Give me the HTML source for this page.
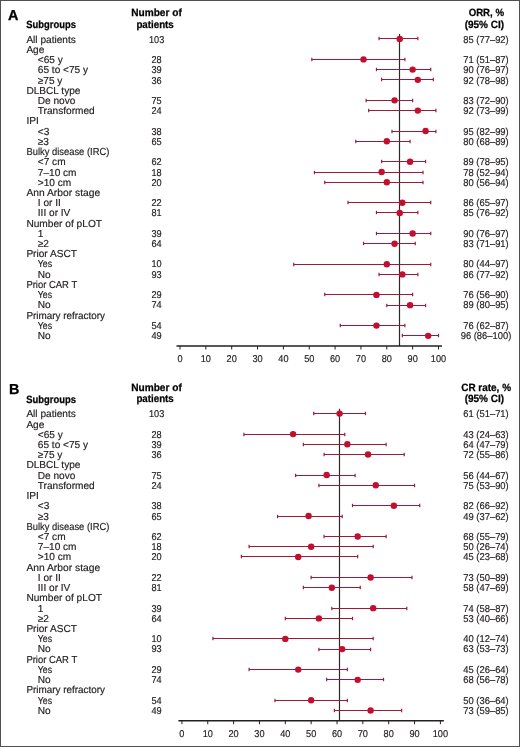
<!DOCTYPE html>
<html><head><meta charset="utf-8"><style>
html,body{margin:0;padding:0;background:#fff;}
#f{position:relative;width:520px;height:747px;overflow:hidden;background:#fff;}
svg{position:absolute;left:0;top:0;will-change:transform;}
text{font-family:"Liberation Sans",sans-serif;fill:#231f20;text-rendering:geometricPrecision;}
.T{font-size:10.1px;stroke:#231f20;stroke-width:0.18px;}
.N{font-size:9.9px;stroke:#231f20;stroke-width:0.18px;}
.H{font-size:10.5px;font-weight:bold;fill:#000;stroke:#000;stroke-width:0.25px;}
.L{font-size:14.4px;font-weight:bold;fill:#000;stroke:#000;stroke-width:0.3px;}
</style></head><body><div id="f"><svg width="520" height="747" viewBox="0 0 520 747">
<text x="7.9" y="19.60" class="L">A</text>
<text x="26.3" y="28.30" class="H" textLength="49.6" lengthAdjust="spacingAndGlyphs">Subgroups</text>
<text x="156.5" y="16.40" class="H" text-anchor="middle" textLength="50.6" lengthAdjust="spacingAndGlyphs">Number of</text>
<text x="155.1" y="27.60" class="H" text-anchor="middle" textLength="37.4" lengthAdjust="spacingAndGlyphs">patients</text>
<text x="486.35" y="16.40" class="H" text-anchor="middle" textLength="35.4" lengthAdjust="spacingAndGlyphs">ORR, %</text>
<text x="484.35" y="27.60" class="H" text-anchor="middle" textLength="39.4" lengthAdjust="spacingAndGlyphs">(95% CI)</text>
<line x1="399.50" y1="34.00" x2="399.50" y2="346.00" stroke="#2a2a2a" stroke-width="1.2"/>
<text x="26.4" y="43.00" class="T">All patients</text>
<text transform="translate(156.6,43.00) scale(0.93,1)" class="N" text-anchor="middle">103</text>
<text transform="translate(486.0,43.00) scale(0.95,1)" class="N" text-anchor="middle">85 (77–92)</text>
<line x1="379.04" y1="38.50" x2="417.82" y2="38.50" stroke="#9a1a3c" stroke-width="1.2"/>
<line x1="379.04" y1="36.80" x2="379.04" y2="40.20" stroke="#9a1a3c" stroke-width="1.2"/>
<line x1="417.82" y1="36.80" x2="417.82" y2="40.20" stroke="#9a1a3c" stroke-width="1.2"/>
<circle cx="399.73" cy="38.90" r="3.2" fill="#c30e2e"/>
<text x="26.4" y="53.00" class="T">Age</text>
<text x="37.8" y="63.00" class="T">&lt;65 y</text>
<text transform="translate(156.6,63.00) scale(0.93,1)" class="N" text-anchor="middle">28</text>
<text transform="translate(486.0,63.00) scale(0.95,1)" class="N" text-anchor="middle">71 (51–87)</text>
<line x1="311.84" y1="59.50" x2="404.89" y2="59.50" stroke="#9a1a3c" stroke-width="1.2"/>
<line x1="311.84" y1="57.80" x2="311.84" y2="61.20" stroke="#9a1a3c" stroke-width="1.2"/>
<line x1="404.89" y1="57.80" x2="404.89" y2="61.20" stroke="#9a1a3c" stroke-width="1.2"/>
<circle cx="363.53" cy="59.38" r="3.2" fill="#c30e2e"/>
<text x="37.8" y="73.00" class="T">65 to &lt;75 y</text>
<text transform="translate(156.6,73.00) scale(0.93,1)" class="N" text-anchor="middle">39</text>
<text transform="translate(486.0,73.00) scale(0.95,1)" class="N" text-anchor="middle">90 (76–97)</text>
<line x1="376.46" y1="69.50" x2="430.75" y2="69.50" stroke="#9a1a3c" stroke-width="1.2"/>
<line x1="376.46" y1="67.80" x2="376.46" y2="71.20" stroke="#9a1a3c" stroke-width="1.2"/>
<line x1="430.75" y1="67.80" x2="430.75" y2="71.20" stroke="#9a1a3c" stroke-width="1.2"/>
<circle cx="412.65" cy="69.62" r="3.2" fill="#c30e2e"/>
<text x="37.8" y="84.00" class="T">≥75 y</text>
<text transform="translate(156.6,84.00) scale(0.93,1)" class="N" text-anchor="middle">36</text>
<text transform="translate(486.0,84.00) scale(0.95,1)" class="N" text-anchor="middle">92 (78–98)</text>
<line x1="381.63" y1="79.50" x2="433.33" y2="79.50" stroke="#9a1a3c" stroke-width="1.2"/>
<line x1="381.63" y1="77.80" x2="381.63" y2="81.20" stroke="#9a1a3c" stroke-width="1.2"/>
<line x1="433.33" y1="77.80" x2="433.33" y2="81.20" stroke="#9a1a3c" stroke-width="1.2"/>
<circle cx="417.82" cy="79.86" r="3.2" fill="#c30e2e"/>
<text x="26.4" y="94.00" class="T">DLBCL type</text>
<text x="37.8" y="104.00" class="T">De novo</text>
<text transform="translate(156.6,104.00) scale(0.93,1)" class="N" text-anchor="middle">75</text>
<text transform="translate(486.0,104.00) scale(0.95,1)" class="N" text-anchor="middle">83 (72–90)</text>
<line x1="366.12" y1="100.50" x2="412.65" y2="100.50" stroke="#9a1a3c" stroke-width="1.2"/>
<line x1="366.12" y1="98.80" x2="366.12" y2="102.20" stroke="#9a1a3c" stroke-width="1.2"/>
<line x1="412.65" y1="98.80" x2="412.65" y2="102.20" stroke="#9a1a3c" stroke-width="1.2"/>
<circle cx="394.56" cy="100.34" r="3.2" fill="#c30e2e"/>
<text x="37.8" y="114.00" class="T">Transformed</text>
<text transform="translate(156.6,114.00) scale(0.93,1)" class="N" text-anchor="middle">24</text>
<text transform="translate(486.0,114.00) scale(0.95,1)" class="N" text-anchor="middle">92 (73–99)</text>
<line x1="368.70" y1="110.50" x2="435.91" y2="110.50" stroke="#9a1a3c" stroke-width="1.2"/>
<line x1="368.70" y1="108.80" x2="368.70" y2="112.20" stroke="#9a1a3c" stroke-width="1.2"/>
<line x1="435.91" y1="108.80" x2="435.91" y2="112.20" stroke="#9a1a3c" stroke-width="1.2"/>
<circle cx="417.82" cy="110.58" r="3.2" fill="#c30e2e"/>
<text x="26.4" y="124.00" class="T">IPI</text>
<text x="37.8" y="135.00" class="T">&lt;3</text>
<text transform="translate(156.6,135.00) scale(0.93,1)" class="N" text-anchor="middle">38</text>
<text transform="translate(486.0,135.00) scale(0.95,1)" class="N" text-anchor="middle">95 (82–99)</text>
<line x1="391.97" y1="131.50" x2="435.91" y2="131.50" stroke="#9a1a3c" stroke-width="1.2"/>
<line x1="391.97" y1="129.80" x2="391.97" y2="133.20" stroke="#9a1a3c" stroke-width="1.2"/>
<line x1="435.91" y1="129.80" x2="435.91" y2="133.20" stroke="#9a1a3c" stroke-width="1.2"/>
<circle cx="425.57" cy="131.06" r="3.2" fill="#c30e2e"/>
<text x="37.8" y="145.00" class="T">≥3</text>
<text transform="translate(156.6,145.00) scale(0.93,1)" class="N" text-anchor="middle">65</text>
<text transform="translate(486.0,145.00) scale(0.95,1)" class="N" text-anchor="middle">80 (68–89)</text>
<line x1="355.78" y1="141.50" x2="410.06" y2="141.50" stroke="#9a1a3c" stroke-width="1.2"/>
<line x1="355.78" y1="139.80" x2="355.78" y2="143.20" stroke="#9a1a3c" stroke-width="1.2"/>
<line x1="410.06" y1="139.80" x2="410.06" y2="143.20" stroke="#9a1a3c" stroke-width="1.2"/>
<circle cx="386.80" cy="141.30" r="3.2" fill="#c30e2e"/>
<text x="26.4" y="155.00" class="T" textLength="83.0" lengthAdjust="spacingAndGlyphs">Bulky disease (IRC)</text>
<text x="37.8" y="165.00" class="T">&lt;7 cm</text>
<text transform="translate(156.6,165.00) scale(0.93,1)" class="N" text-anchor="middle">62</text>
<text transform="translate(486.0,165.00) scale(0.95,1)" class="N" text-anchor="middle">89 (78–95)</text>
<line x1="381.63" y1="161.50" x2="425.57" y2="161.50" stroke="#9a1a3c" stroke-width="1.2"/>
<line x1="381.63" y1="159.80" x2="381.63" y2="163.20" stroke="#9a1a3c" stroke-width="1.2"/>
<line x1="425.57" y1="159.80" x2="425.57" y2="163.20" stroke="#9a1a3c" stroke-width="1.2"/>
<circle cx="410.06" cy="161.78" r="3.2" fill="#c30e2e"/>
<text x="37.8" y="176.00" class="T">7–10 cm</text>
<text transform="translate(156.6,176.00) scale(0.93,1)" class="N" text-anchor="middle">18</text>
<text transform="translate(486.0,176.00) scale(0.95,1)" class="N" text-anchor="middle">78 (52–94)</text>
<line x1="314.42" y1="172.50" x2="422.99" y2="172.50" stroke="#9a1a3c" stroke-width="1.2"/>
<line x1="314.42" y1="170.80" x2="314.42" y2="174.20" stroke="#9a1a3c" stroke-width="1.2"/>
<line x1="422.99" y1="170.80" x2="422.99" y2="174.20" stroke="#9a1a3c" stroke-width="1.2"/>
<circle cx="381.63" cy="172.02" r="3.2" fill="#c30e2e"/>
<text x="37.8" y="186.00" class="T">&gt;10 cm</text>
<text transform="translate(156.6,186.00) scale(0.93,1)" class="N" text-anchor="middle">20</text>
<text transform="translate(486.0,186.00) scale(0.95,1)" class="N" text-anchor="middle">80 (56–94)</text>
<line x1="324.76" y1="182.50" x2="422.99" y2="182.50" stroke="#9a1a3c" stroke-width="1.2"/>
<line x1="324.76" y1="180.80" x2="324.76" y2="184.20" stroke="#9a1a3c" stroke-width="1.2"/>
<line x1="422.99" y1="180.80" x2="422.99" y2="184.20" stroke="#9a1a3c" stroke-width="1.2"/>
<circle cx="386.80" cy="182.26" r="3.2" fill="#c30e2e"/>
<text x="26.4" y="196.00" class="T" textLength="73.8" lengthAdjust="spacingAndGlyphs">Ann Arbor stage</text>
<text x="37.8" y="206.00" class="T">I or II</text>
<text transform="translate(156.6,206.00) scale(0.93,1)" class="N" text-anchor="middle">22</text>
<text transform="translate(486.0,206.00) scale(0.95,1)" class="N" text-anchor="middle">86 (65–97)</text>
<line x1="348.02" y1="202.50" x2="430.75" y2="202.50" stroke="#9a1a3c" stroke-width="1.2"/>
<line x1="348.02" y1="200.80" x2="348.02" y2="204.20" stroke="#9a1a3c" stroke-width="1.2"/>
<line x1="430.75" y1="200.80" x2="430.75" y2="204.20" stroke="#9a1a3c" stroke-width="1.2"/>
<circle cx="402.31" cy="202.74" r="3.2" fill="#c30e2e"/>
<text x="37.8" y="216.00" class="T">III or IV</text>
<text transform="translate(156.6,216.00) scale(0.93,1)" class="N" text-anchor="middle">81</text>
<text transform="translate(486.0,216.00) scale(0.95,1)" class="N" text-anchor="middle">85 (76–92)</text>
<line x1="376.46" y1="212.50" x2="417.82" y2="212.50" stroke="#9a1a3c" stroke-width="1.2"/>
<line x1="376.46" y1="210.80" x2="376.46" y2="214.20" stroke="#9a1a3c" stroke-width="1.2"/>
<line x1="417.82" y1="210.80" x2="417.82" y2="214.20" stroke="#9a1a3c" stroke-width="1.2"/>
<circle cx="399.73" cy="212.98" r="3.2" fill="#c30e2e"/>
<text x="26.4" y="227.00" class="T" textLength="75.6" lengthAdjust="spacingAndGlyphs">Number of pLOT</text>
<text x="37.8" y="237.00" class="T">1</text>
<text transform="translate(156.6,237.00) scale(0.93,1)" class="N" text-anchor="middle">39</text>
<text transform="translate(486.0,237.00) scale(0.95,1)" class="N" text-anchor="middle">90 (76–97)</text>
<line x1="376.46" y1="233.50" x2="430.75" y2="233.50" stroke="#9a1a3c" stroke-width="1.2"/>
<line x1="376.46" y1="231.80" x2="376.46" y2="235.20" stroke="#9a1a3c" stroke-width="1.2"/>
<line x1="430.75" y1="231.80" x2="430.75" y2="235.20" stroke="#9a1a3c" stroke-width="1.2"/>
<circle cx="412.65" cy="233.46" r="3.2" fill="#c30e2e"/>
<text x="37.8" y="247.00" class="T">≥2</text>
<text transform="translate(156.6,247.00) scale(0.93,1)" class="N" text-anchor="middle">64</text>
<text transform="translate(486.0,247.00) scale(0.95,1)" class="N" text-anchor="middle">83 (71–91)</text>
<line x1="363.53" y1="243.50" x2="415.24" y2="243.50" stroke="#9a1a3c" stroke-width="1.2"/>
<line x1="363.53" y1="241.80" x2="363.53" y2="245.20" stroke="#9a1a3c" stroke-width="1.2"/>
<line x1="415.24" y1="241.80" x2="415.24" y2="245.20" stroke="#9a1a3c" stroke-width="1.2"/>
<circle cx="394.56" cy="243.70" r="3.2" fill="#c30e2e"/>
<text x="26.4" y="257.00" class="T">Prior ASCT</text>
<text x="37.8" y="267.00" class="T" textLength="14.2" lengthAdjust="spacingAndGlyphs">Yes</text>
<text transform="translate(156.6,267.00) scale(0.93,1)" class="N" text-anchor="middle">10</text>
<text transform="translate(486.0,267.00) scale(0.95,1)" class="N" text-anchor="middle">80 (44–97)</text>
<line x1="293.74" y1="264.50" x2="430.75" y2="264.50" stroke="#9a1a3c" stroke-width="1.2"/>
<line x1="293.74" y1="262.80" x2="293.74" y2="266.20" stroke="#9a1a3c" stroke-width="1.2"/>
<line x1="430.75" y1="262.80" x2="430.75" y2="266.20" stroke="#9a1a3c" stroke-width="1.2"/>
<circle cx="386.80" cy="264.18" r="3.2" fill="#c30e2e"/>
<text x="37.8" y="278.00" class="T">No</text>
<text transform="translate(156.6,278.00) scale(0.93,1)" class="N" text-anchor="middle">93</text>
<text transform="translate(486.0,278.00) scale(0.95,1)" class="N" text-anchor="middle">86 (77–92)</text>
<line x1="379.04" y1="274.50" x2="417.82" y2="274.50" stroke="#9a1a3c" stroke-width="1.2"/>
<line x1="379.04" y1="272.80" x2="379.04" y2="276.20" stroke="#9a1a3c" stroke-width="1.2"/>
<line x1="417.82" y1="272.80" x2="417.82" y2="276.20" stroke="#9a1a3c" stroke-width="1.2"/>
<circle cx="402.31" cy="274.42" r="3.2" fill="#c30e2e"/>
<text x="26.4" y="288.00" class="T" textLength="50.8" lengthAdjust="spacingAndGlyphs">Prior CAR T</text>
<text x="37.8" y="298.00" class="T" textLength="14.2" lengthAdjust="spacingAndGlyphs">Yes</text>
<text transform="translate(156.6,298.00) scale(0.93,1)" class="N" text-anchor="middle">29</text>
<text transform="translate(486.0,298.00) scale(0.95,1)" class="N" text-anchor="middle">76 (56–90)</text>
<line x1="324.76" y1="294.50" x2="412.65" y2="294.50" stroke="#9a1a3c" stroke-width="1.2"/>
<line x1="324.76" y1="292.80" x2="324.76" y2="296.20" stroke="#9a1a3c" stroke-width="1.2"/>
<line x1="412.65" y1="292.80" x2="412.65" y2="296.20" stroke="#9a1a3c" stroke-width="1.2"/>
<circle cx="376.46" cy="294.90" r="3.2" fill="#c30e2e"/>
<text x="37.8" y="308.00" class="T">No</text>
<text transform="translate(156.6,308.00) scale(0.93,1)" class="N" text-anchor="middle">74</text>
<text transform="translate(486.0,308.00) scale(0.95,1)" class="N" text-anchor="middle">89 (80–95)</text>
<line x1="386.80" y1="305.50" x2="425.57" y2="305.50" stroke="#9a1a3c" stroke-width="1.2"/>
<line x1="386.80" y1="303.80" x2="386.80" y2="307.20" stroke="#9a1a3c" stroke-width="1.2"/>
<line x1="425.57" y1="303.80" x2="425.57" y2="307.20" stroke="#9a1a3c" stroke-width="1.2"/>
<circle cx="410.06" cy="305.14" r="3.2" fill="#c30e2e"/>
<text x="26.4" y="319.00" class="T" textLength="78.6" lengthAdjust="spacingAndGlyphs">Primary refractory</text>
<text x="37.8" y="329.00" class="T" textLength="14.2" lengthAdjust="spacingAndGlyphs">Yes</text>
<text transform="translate(156.6,329.00) scale(0.93,1)" class="N" text-anchor="middle">54</text>
<text transform="translate(486.0,329.00) scale(0.95,1)" class="N" text-anchor="middle">76 (62–87)</text>
<line x1="340.27" y1="325.50" x2="404.89" y2="325.50" stroke="#9a1a3c" stroke-width="1.2"/>
<line x1="340.27" y1="323.80" x2="340.27" y2="327.20" stroke="#9a1a3c" stroke-width="1.2"/>
<line x1="404.89" y1="323.80" x2="404.89" y2="327.20" stroke="#9a1a3c" stroke-width="1.2"/>
<circle cx="376.46" cy="325.62" r="3.2" fill="#c30e2e"/>
<text x="37.8" y="339.00" class="T">No</text>
<text transform="translate(156.6,339.00) scale(0.93,1)" class="N" text-anchor="middle">49</text>
<text transform="translate(486.0,339.00) scale(0.95,1)" class="N" text-anchor="middle">96 (86–100)</text>
<line x1="402.31" y1="335.50" x2="438.50" y2="335.50" stroke="#9a1a3c" stroke-width="1.2"/>
<line x1="402.31" y1="333.80" x2="402.31" y2="337.20" stroke="#9a1a3c" stroke-width="1.2"/>
<line x1="438.50" y1="333.80" x2="438.50" y2="337.20" stroke="#9a1a3c" stroke-width="1.2"/>
<circle cx="428.16" cy="335.86" r="3.2" fill="#c30e2e"/>
<line x1="176.50" y1="346.00" x2="442.00" y2="346.00" stroke="#231f20" stroke-width="1.4"/>
<line x1="180.00" y1="346.00" x2="180.00" y2="349.50" stroke="#231f20" stroke-width="1"/>
<text transform="translate(180.00,361.80) scale(0.93,1)" class="N" text-anchor="middle">0</text>
<line x1="205.85" y1="346.00" x2="205.85" y2="349.50" stroke="#231f20" stroke-width="1"/>
<text transform="translate(205.85,361.80) scale(0.93,1)" class="N" text-anchor="middle">10</text>
<line x1="231.70" y1="346.00" x2="231.70" y2="349.50" stroke="#231f20" stroke-width="1"/>
<text transform="translate(231.70,361.80) scale(0.93,1)" class="N" text-anchor="middle">20</text>
<line x1="257.55" y1="346.00" x2="257.55" y2="349.50" stroke="#231f20" stroke-width="1"/>
<text transform="translate(257.55,361.80) scale(0.93,1)" class="N" text-anchor="middle">30</text>
<line x1="283.40" y1="346.00" x2="283.40" y2="349.50" stroke="#231f20" stroke-width="1"/>
<text transform="translate(283.40,361.80) scale(0.93,1)" class="N" text-anchor="middle">40</text>
<line x1="309.25" y1="346.00" x2="309.25" y2="349.50" stroke="#231f20" stroke-width="1"/>
<text transform="translate(309.25,361.80) scale(0.93,1)" class="N" text-anchor="middle">50</text>
<line x1="335.10" y1="346.00" x2="335.10" y2="349.50" stroke="#231f20" stroke-width="1"/>
<text transform="translate(335.10,361.80) scale(0.93,1)" class="N" text-anchor="middle">60</text>
<line x1="360.95" y1="346.00" x2="360.95" y2="349.50" stroke="#231f20" stroke-width="1"/>
<text transform="translate(360.95,361.80) scale(0.93,1)" class="N" text-anchor="middle">70</text>
<line x1="386.80" y1="346.00" x2="386.80" y2="349.50" stroke="#231f20" stroke-width="1"/>
<text transform="translate(386.80,361.80) scale(0.93,1)" class="N" text-anchor="middle">80</text>
<line x1="412.65" y1="346.00" x2="412.65" y2="349.50" stroke="#231f20" stroke-width="1"/>
<text transform="translate(412.65,361.80) scale(0.93,1)" class="N" text-anchor="middle">90</text>
<line x1="438.50" y1="346.00" x2="438.50" y2="349.50" stroke="#231f20" stroke-width="1"/>
<text transform="translate(438.50,361.80) scale(0.93,1)" class="N" text-anchor="middle">100</text>
<text x="8.9" y="394.30" class="L">B</text>
<text x="26.3" y="403.00" class="H" textLength="49.6" lengthAdjust="spacingAndGlyphs">Subgroups</text>
<text x="156.5" y="391.10" class="H" text-anchor="middle" textLength="50.6" lengthAdjust="spacingAndGlyphs">Number of</text>
<text x="155.1" y="402.30" class="H" text-anchor="middle" textLength="37.4" lengthAdjust="spacingAndGlyphs">patients</text>
<text x="486.1" y="391.10" class="H" text-anchor="middle" textLength="49.8" lengthAdjust="spacingAndGlyphs">CR rate, %</text>
<text x="484.35" y="402.30" class="H" text-anchor="middle" textLength="39.4" lengthAdjust="spacingAndGlyphs">(95% CI)</text>
<line x1="339.50" y1="408.70" x2="339.50" y2="720.70" stroke="#2a2a2a" stroke-width="1.2"/>
<text x="26.4" y="417.00" class="T">All patients</text>
<text transform="translate(156.6,417.00) scale(0.93,1)" class="N" text-anchor="middle">103</text>
<text transform="translate(486.0,417.00) scale(0.95,1)" class="N" text-anchor="middle">61 (51–71)</text>
<line x1="313.74" y1="413.50" x2="365.44" y2="413.50" stroke="#9a1a3c" stroke-width="1.2"/>
<line x1="313.74" y1="411.80" x2="313.74" y2="415.20" stroke="#9a1a3c" stroke-width="1.2"/>
<line x1="365.44" y1="411.80" x2="365.44" y2="415.20" stroke="#9a1a3c" stroke-width="1.2"/>
<circle cx="339.59" cy="413.60" r="3.2" fill="#c30e2e"/>
<text x="26.4" y="428.00" class="T">Age</text>
<text x="37.8" y="438.00" class="T">&lt;65 y</text>
<text transform="translate(156.6,438.00) scale(0.93,1)" class="N" text-anchor="middle">28</text>
<text transform="translate(486.0,438.00) scale(0.95,1)" class="N" text-anchor="middle">43 (24–63)</text>
<line x1="243.94" y1="434.50" x2="344.75" y2="434.50" stroke="#9a1a3c" stroke-width="1.2"/>
<line x1="243.94" y1="432.80" x2="243.94" y2="436.20" stroke="#9a1a3c" stroke-width="1.2"/>
<line x1="344.75" y1="432.80" x2="344.75" y2="436.20" stroke="#9a1a3c" stroke-width="1.2"/>
<circle cx="293.06" cy="434.08" r="3.2" fill="#c30e2e"/>
<text x="37.8" y="448.00" class="T">65 to &lt;75 y</text>
<text transform="translate(156.6,448.00) scale(0.93,1)" class="N" text-anchor="middle">39</text>
<text transform="translate(486.0,448.00) scale(0.95,1)" class="N" text-anchor="middle">64 (47–79)</text>
<line x1="303.39" y1="444.50" x2="386.12" y2="444.50" stroke="#9a1a3c" stroke-width="1.2"/>
<line x1="303.39" y1="442.80" x2="303.39" y2="446.20" stroke="#9a1a3c" stroke-width="1.2"/>
<line x1="386.12" y1="442.80" x2="386.12" y2="446.20" stroke="#9a1a3c" stroke-width="1.2"/>
<circle cx="347.34" cy="444.32" r="3.2" fill="#c30e2e"/>
<text x="37.8" y="458.00" class="T">≥75 y</text>
<text transform="translate(156.6,458.00) scale(0.93,1)" class="N" text-anchor="middle">36</text>
<text transform="translate(486.0,458.00) scale(0.95,1)" class="N" text-anchor="middle">72 (55–86)</text>
<line x1="324.08" y1="454.50" x2="404.21" y2="454.50" stroke="#9a1a3c" stroke-width="1.2"/>
<line x1="324.08" y1="452.80" x2="324.08" y2="456.20" stroke="#9a1a3c" stroke-width="1.2"/>
<line x1="404.21" y1="452.80" x2="404.21" y2="456.20" stroke="#9a1a3c" stroke-width="1.2"/>
<circle cx="368.02" cy="454.56" r="3.2" fill="#c30e2e"/>
<text x="26.4" y="468.00" class="T">DLBCL type</text>
<text x="37.8" y="479.00" class="T">De novo</text>
<text transform="translate(156.6,479.00) scale(0.93,1)" class="N" text-anchor="middle">75</text>
<text transform="translate(486.0,479.00) scale(0.95,1)" class="N" text-anchor="middle">56 (44–67)</text>
<line x1="295.64" y1="475.50" x2="355.10" y2="475.50" stroke="#9a1a3c" stroke-width="1.2"/>
<line x1="295.64" y1="473.80" x2="295.64" y2="477.20" stroke="#9a1a3c" stroke-width="1.2"/>
<line x1="355.10" y1="473.80" x2="355.10" y2="477.20" stroke="#9a1a3c" stroke-width="1.2"/>
<circle cx="326.66" cy="475.04" r="3.2" fill="#c30e2e"/>
<text x="37.8" y="489.00" class="T">Transformed</text>
<text transform="translate(156.6,489.00) scale(0.93,1)" class="N" text-anchor="middle">24</text>
<text transform="translate(486.0,489.00) scale(0.95,1)" class="N" text-anchor="middle">75 (53–90)</text>
<line x1="318.90" y1="485.50" x2="414.55" y2="485.50" stroke="#9a1a3c" stroke-width="1.2"/>
<line x1="318.90" y1="483.80" x2="318.90" y2="487.20" stroke="#9a1a3c" stroke-width="1.2"/>
<line x1="414.55" y1="483.80" x2="414.55" y2="487.20" stroke="#9a1a3c" stroke-width="1.2"/>
<circle cx="375.77" cy="485.28" r="3.2" fill="#c30e2e"/>
<text x="26.4" y="499.00" class="T">IPI</text>
<text x="37.8" y="509.00" class="T">&lt;3</text>
<text transform="translate(156.6,509.00) scale(0.93,1)" class="N" text-anchor="middle">38</text>
<text transform="translate(486.0,509.00) scale(0.95,1)" class="N" text-anchor="middle">82 (66–92)</text>
<line x1="352.51" y1="505.50" x2="419.72" y2="505.50" stroke="#9a1a3c" stroke-width="1.2"/>
<line x1="352.51" y1="503.80" x2="352.51" y2="507.20" stroke="#9a1a3c" stroke-width="1.2"/>
<line x1="419.72" y1="503.80" x2="419.72" y2="507.20" stroke="#9a1a3c" stroke-width="1.2"/>
<circle cx="393.87" cy="505.76" r="3.2" fill="#c30e2e"/>
<text x="37.8" y="520.00" class="T">≥3</text>
<text transform="translate(156.6,520.00) scale(0.93,1)" class="N" text-anchor="middle">65</text>
<text transform="translate(486.0,520.00) scale(0.95,1)" class="N" text-anchor="middle">49 (37–62)</text>
<line x1="277.55" y1="516.50" x2="342.17" y2="516.50" stroke="#9a1a3c" stroke-width="1.2"/>
<line x1="277.55" y1="514.80" x2="277.55" y2="518.20" stroke="#9a1a3c" stroke-width="1.2"/>
<line x1="342.17" y1="514.80" x2="342.17" y2="518.20" stroke="#9a1a3c" stroke-width="1.2"/>
<circle cx="308.56" cy="516.00" r="3.2" fill="#c30e2e"/>
<text x="26.4" y="530.00" class="T" textLength="83.0" lengthAdjust="spacingAndGlyphs">Bulky disease (IRC)</text>
<text x="37.8" y="540.00" class="T">&lt;7 cm</text>
<text transform="translate(156.6,540.00) scale(0.93,1)" class="N" text-anchor="middle">62</text>
<text transform="translate(486.0,540.00) scale(0.95,1)" class="N" text-anchor="middle">68 (55–79)</text>
<line x1="324.08" y1="536.50" x2="386.12" y2="536.50" stroke="#9a1a3c" stroke-width="1.2"/>
<line x1="324.08" y1="534.80" x2="324.08" y2="538.20" stroke="#9a1a3c" stroke-width="1.2"/>
<line x1="386.12" y1="534.80" x2="386.12" y2="538.20" stroke="#9a1a3c" stroke-width="1.2"/>
<circle cx="357.68" cy="536.48" r="3.2" fill="#c30e2e"/>
<text x="37.8" y="550.00" class="T">7–10 cm</text>
<text transform="translate(156.6,550.00) scale(0.93,1)" class="N" text-anchor="middle">18</text>
<text transform="translate(486.0,550.00) scale(0.95,1)" class="N" text-anchor="middle">50 (26–74)</text>
<line x1="249.11" y1="546.50" x2="373.19" y2="546.50" stroke="#9a1a3c" stroke-width="1.2"/>
<line x1="249.11" y1="544.80" x2="249.11" y2="548.20" stroke="#9a1a3c" stroke-width="1.2"/>
<line x1="373.19" y1="544.80" x2="373.19" y2="548.20" stroke="#9a1a3c" stroke-width="1.2"/>
<circle cx="311.15" cy="546.72" r="3.2" fill="#c30e2e"/>
<text x="37.8" y="560.00" class="T">&gt;10 cm</text>
<text transform="translate(156.6,560.00) scale(0.93,1)" class="N" text-anchor="middle">20</text>
<text transform="translate(486.0,560.00) scale(0.95,1)" class="N" text-anchor="middle">45 (23–68)</text>
<line x1="241.36" y1="556.50" x2="357.68" y2="556.50" stroke="#9a1a3c" stroke-width="1.2"/>
<line x1="241.36" y1="554.80" x2="241.36" y2="558.20" stroke="#9a1a3c" stroke-width="1.2"/>
<line x1="357.68" y1="554.80" x2="357.68" y2="558.20" stroke="#9a1a3c" stroke-width="1.2"/>
<circle cx="298.23" cy="556.96" r="3.2" fill="#c30e2e"/>
<text x="26.4" y="571.00" class="T" textLength="73.8" lengthAdjust="spacingAndGlyphs">Ann Arbor stage</text>
<text x="37.8" y="581.00" class="T">I or II</text>
<text transform="translate(156.6,581.00) scale(0.93,1)" class="N" text-anchor="middle">22</text>
<text transform="translate(486.0,581.00) scale(0.95,1)" class="N" text-anchor="middle">73 (50–89)</text>
<line x1="311.15" y1="577.50" x2="411.97" y2="577.50" stroke="#9a1a3c" stroke-width="1.2"/>
<line x1="311.15" y1="575.80" x2="311.15" y2="579.20" stroke="#9a1a3c" stroke-width="1.2"/>
<line x1="411.97" y1="575.80" x2="411.97" y2="579.20" stroke="#9a1a3c" stroke-width="1.2"/>
<circle cx="370.61" cy="577.44" r="3.2" fill="#c30e2e"/>
<text x="37.8" y="591.00" class="T">III or IV</text>
<text transform="translate(156.6,591.00) scale(0.93,1)" class="N" text-anchor="middle">81</text>
<text transform="translate(486.0,591.00) scale(0.95,1)" class="N" text-anchor="middle">58 (47–69)</text>
<line x1="303.39" y1="587.50" x2="360.26" y2="587.50" stroke="#9a1a3c" stroke-width="1.2"/>
<line x1="303.39" y1="585.80" x2="303.39" y2="589.20" stroke="#9a1a3c" stroke-width="1.2"/>
<line x1="360.26" y1="585.80" x2="360.26" y2="589.20" stroke="#9a1a3c" stroke-width="1.2"/>
<circle cx="331.83" cy="587.68" r="3.2" fill="#c30e2e"/>
<text x="26.4" y="601.00" class="T" textLength="75.6" lengthAdjust="spacingAndGlyphs">Number of pLOT</text>
<text x="37.8" y="612.00" class="T">1</text>
<text transform="translate(156.6,612.00) scale(0.93,1)" class="N" text-anchor="middle">39</text>
<text transform="translate(486.0,612.00) scale(0.95,1)" class="N" text-anchor="middle">74 (58–87)</text>
<line x1="331.83" y1="608.50" x2="406.80" y2="608.50" stroke="#9a1a3c" stroke-width="1.2"/>
<line x1="331.83" y1="606.80" x2="331.83" y2="610.20" stroke="#9a1a3c" stroke-width="1.2"/>
<line x1="406.80" y1="606.80" x2="406.80" y2="610.20" stroke="#9a1a3c" stroke-width="1.2"/>
<circle cx="373.19" cy="608.16" r="3.2" fill="#c30e2e"/>
<text x="37.8" y="622.00" class="T">≥2</text>
<text transform="translate(156.6,622.00) scale(0.93,1)" class="N" text-anchor="middle">64</text>
<text transform="translate(486.0,622.00) scale(0.95,1)" class="N" text-anchor="middle">53 (40–66)</text>
<line x1="285.30" y1="618.50" x2="352.51" y2="618.50" stroke="#9a1a3c" stroke-width="1.2"/>
<line x1="285.30" y1="616.80" x2="285.30" y2="620.20" stroke="#9a1a3c" stroke-width="1.2"/>
<line x1="352.51" y1="616.80" x2="352.51" y2="620.20" stroke="#9a1a3c" stroke-width="1.2"/>
<circle cx="318.90" cy="618.40" r="3.2" fill="#c30e2e"/>
<text x="26.4" y="632.00" class="T">Prior ASCT</text>
<text x="37.8" y="642.00" class="T" textLength="14.2" lengthAdjust="spacingAndGlyphs">Yes</text>
<text transform="translate(156.6,642.00) scale(0.93,1)" class="N" text-anchor="middle">10</text>
<text transform="translate(486.0,642.00) scale(0.95,1)" class="N" text-anchor="middle">40 (12–74)</text>
<line x1="212.92" y1="638.50" x2="373.19" y2="638.50" stroke="#9a1a3c" stroke-width="1.2"/>
<line x1="212.92" y1="636.80" x2="212.92" y2="640.20" stroke="#9a1a3c" stroke-width="1.2"/>
<line x1="373.19" y1="636.80" x2="373.19" y2="640.20" stroke="#9a1a3c" stroke-width="1.2"/>
<circle cx="285.30" cy="638.88" r="3.2" fill="#c30e2e"/>
<text x="37.8" y="652.00" class="T">No</text>
<text transform="translate(156.6,652.00) scale(0.93,1)" class="N" text-anchor="middle">93</text>
<text transform="translate(486.0,652.00) scale(0.95,1)" class="N" text-anchor="middle">63 (53–73)</text>
<line x1="318.90" y1="649.50" x2="370.61" y2="649.50" stroke="#9a1a3c" stroke-width="1.2"/>
<line x1="318.90" y1="647.80" x2="318.90" y2="651.20" stroke="#9a1a3c" stroke-width="1.2"/>
<line x1="370.61" y1="647.80" x2="370.61" y2="651.20" stroke="#9a1a3c" stroke-width="1.2"/>
<circle cx="342.17" cy="649.12" r="3.2" fill="#c30e2e"/>
<text x="26.4" y="663.00" class="T" textLength="50.8" lengthAdjust="spacingAndGlyphs">Prior CAR T</text>
<text x="37.8" y="673.00" class="T" textLength="14.2" lengthAdjust="spacingAndGlyphs">Yes</text>
<text transform="translate(156.6,673.00) scale(0.93,1)" class="N" text-anchor="middle">29</text>
<text transform="translate(486.0,673.00) scale(0.95,1)" class="N" text-anchor="middle">45 (26–64)</text>
<line x1="249.11" y1="669.50" x2="347.34" y2="669.50" stroke="#9a1a3c" stroke-width="1.2"/>
<line x1="249.11" y1="667.80" x2="249.11" y2="671.20" stroke="#9a1a3c" stroke-width="1.2"/>
<line x1="347.34" y1="667.80" x2="347.34" y2="671.20" stroke="#9a1a3c" stroke-width="1.2"/>
<circle cx="298.23" cy="669.60" r="3.2" fill="#c30e2e"/>
<text x="37.8" y="683.00" class="T">No</text>
<text transform="translate(156.6,683.00) scale(0.93,1)" class="N" text-anchor="middle">74</text>
<text transform="translate(486.0,683.00) scale(0.95,1)" class="N" text-anchor="middle">68 (56–78)</text>
<line x1="326.66" y1="679.50" x2="383.53" y2="679.50" stroke="#9a1a3c" stroke-width="1.2"/>
<line x1="326.66" y1="677.80" x2="326.66" y2="681.20" stroke="#9a1a3c" stroke-width="1.2"/>
<line x1="383.53" y1="677.80" x2="383.53" y2="681.20" stroke="#9a1a3c" stroke-width="1.2"/>
<circle cx="357.68" cy="679.84" r="3.2" fill="#c30e2e"/>
<text x="26.4" y="693.00" class="T" textLength="78.6" lengthAdjust="spacingAndGlyphs">Primary refractory</text>
<text x="37.8" y="704.00" class="T" textLength="14.2" lengthAdjust="spacingAndGlyphs">Yes</text>
<text transform="translate(156.6,704.00) scale(0.93,1)" class="N" text-anchor="middle">54</text>
<text transform="translate(486.0,704.00) scale(0.95,1)" class="N" text-anchor="middle">50 (36–64)</text>
<line x1="274.96" y1="700.50" x2="347.34" y2="700.50" stroke="#9a1a3c" stroke-width="1.2"/>
<line x1="274.96" y1="698.80" x2="274.96" y2="702.20" stroke="#9a1a3c" stroke-width="1.2"/>
<line x1="347.34" y1="698.80" x2="347.34" y2="702.20" stroke="#9a1a3c" stroke-width="1.2"/>
<circle cx="311.15" cy="700.32" r="3.2" fill="#c30e2e"/>
<text x="37.8" y="714.00" class="T">No</text>
<text transform="translate(156.6,714.00) scale(0.93,1)" class="N" text-anchor="middle">49</text>
<text transform="translate(486.0,714.00) scale(0.95,1)" class="N" text-anchor="middle">73 (59–85)</text>
<line x1="334.41" y1="710.50" x2="401.62" y2="710.50" stroke="#9a1a3c" stroke-width="1.2"/>
<line x1="334.41" y1="708.80" x2="334.41" y2="712.20" stroke="#9a1a3c" stroke-width="1.2"/>
<line x1="401.62" y1="708.80" x2="401.62" y2="712.20" stroke="#9a1a3c" stroke-width="1.2"/>
<circle cx="370.61" cy="710.56" r="3.2" fill="#c30e2e"/>
<line x1="178.40" y1="720.70" x2="443.90" y2="720.70" stroke="#231f20" stroke-width="1.4"/>
<line x1="181.90" y1="720.70" x2="181.90" y2="724.20" stroke="#231f20" stroke-width="1"/>
<text transform="translate(181.90,736.50) scale(0.93,1)" class="N" text-anchor="middle">0</text>
<line x1="207.75" y1="720.70" x2="207.75" y2="724.20" stroke="#231f20" stroke-width="1"/>
<text transform="translate(207.75,736.50) scale(0.93,1)" class="N" text-anchor="middle">10</text>
<line x1="233.60" y1="720.70" x2="233.60" y2="724.20" stroke="#231f20" stroke-width="1"/>
<text transform="translate(233.60,736.50) scale(0.93,1)" class="N" text-anchor="middle">20</text>
<line x1="259.45" y1="720.70" x2="259.45" y2="724.20" stroke="#231f20" stroke-width="1"/>
<text transform="translate(259.45,736.50) scale(0.93,1)" class="N" text-anchor="middle">30</text>
<line x1="285.30" y1="720.70" x2="285.30" y2="724.20" stroke="#231f20" stroke-width="1"/>
<text transform="translate(285.30,736.50) scale(0.93,1)" class="N" text-anchor="middle">40</text>
<line x1="311.15" y1="720.70" x2="311.15" y2="724.20" stroke="#231f20" stroke-width="1"/>
<text transform="translate(311.15,736.50) scale(0.93,1)" class="N" text-anchor="middle">50</text>
<line x1="337.00" y1="720.70" x2="337.00" y2="724.20" stroke="#231f20" stroke-width="1"/>
<text transform="translate(337.00,736.50) scale(0.93,1)" class="N" text-anchor="middle">60</text>
<line x1="362.85" y1="720.70" x2="362.85" y2="724.20" stroke="#231f20" stroke-width="1"/>
<text transform="translate(362.85,736.50) scale(0.93,1)" class="N" text-anchor="middle">70</text>
<line x1="388.70" y1="720.70" x2="388.70" y2="724.20" stroke="#231f20" stroke-width="1"/>
<text transform="translate(388.70,736.50) scale(0.93,1)" class="N" text-anchor="middle">80</text>
<line x1="414.55" y1="720.70" x2="414.55" y2="724.20" stroke="#231f20" stroke-width="1"/>
<text transform="translate(414.55,736.50) scale(0.93,1)" class="N" text-anchor="middle">90</text>
<line x1="440.40" y1="720.70" x2="440.40" y2="724.20" stroke="#231f20" stroke-width="1"/>
<text transform="translate(440.40,736.50) scale(0.93,1)" class="N" text-anchor="middle">100</text>
<rect x="0.5" y="0.5" width="519" height="746" fill="none" stroke="#505050" stroke-width="1"/>
</svg></div></body></html>
